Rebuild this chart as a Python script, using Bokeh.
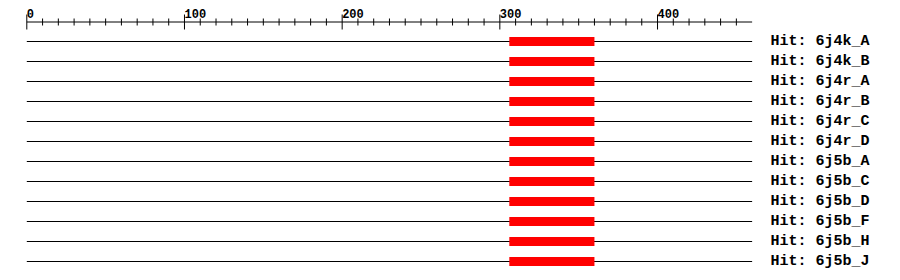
from bokeh.plotting import figure
from bokeh.models import Range1d, ColumnDataSource
from bokeh.core.properties import value
from bokeh.embed import file_html
from bokeh.resources import INLINE

# ---- data ----
query_length = 460
hit_names = ["6j4k_A", "6j4k_B", "6j4r_A", "6j4r_B", "6j4r_C", "6j4r_D",
             "6j5b_A", "6j5b_C", "6j5b_D", "6j5b_F", "6j5b_H", "6j5b_J"]
hit_start = [306, 306, 306, 306, 306, 306, 306, 306, 306, 306, 306, 306]
hit_end = [360, 360, 360, 360, 360, 360, 360, 360, 360, 360, 360, 360]
major_ticks = [0, 100, 200, 300, 400]
major_labels = ["0", "100", "200", "300", "400"]
minor_ticks = [10, 20, 30, 40, 50, 60, 70, 80, 90,
               110, 120, 130, 140, 150, 160, 170, 180, 190,
               210, 220, 230, 240, 250, 260, 270, 280, 290,
               310, 320, 330, 340, 350, 360, 370, 380, 390,
               410, 420, 430, 440, 450]

# ---- layout (pixel mapping) ----
W, H = 900, 280
X0_PX = 26.3
PX_PER_UNIT = 1.5768
ROW0_PX = 41
ROW_STEP_PX = 20.0

p = figure(width=W, height=H, output_backend="svg", toolbar_location=None,
           x_range=Range1d(-X0_PX / PX_PER_UNIT, (W - X0_PX) / PX_PER_UNIT),
           y_range=Range1d((H - ROW0_PX) / ROW_STEP_PX, (0 - ROW0_PX) / ROW_STEP_PX),
           min_border=0, outline_line_color=None)
p.xaxis.visible = False
p.yaxis.visible = False
p.grid.visible = False
p.background_fill_color = "white"
p.border_fill_color = "white"

def r(px):
    return (px - ROW0_PX) / ROW_STEP_PX

ruler_y = r(21.5)
# ruler line
p.segment(x0=[0], x1=[query_length], y0=[ruler_y], y1=[ruler_y],
          line_color="black", line_width=1)
# major ticks
p.segment(x0=major_ticks, x1=major_ticks,
          y0=[r(14)] * len(major_ticks), y1=[r(29)] * len(major_ticks),
          line_color="black", line_width=1)
# minor ticks
p.segment(x0=minor_ticks, x1=minor_ticks,
          y0=[r(18)] * len(minor_ticks), y1=[r(25)] * len(minor_ticks),
          line_color="black", line_width=1)
# tick labels
p.text(x=major_ticks, y=[r(12.5)] * len(major_ticks), text=major_labels,
       text_font=value("Liberation Mono"), text_font_style="bold",
       text_font_size="12px", text_align="left", text_baseline="alphabetic",
       text_color="black")

rows = list(range(len(hit_names)))
src = ColumnDataSource(dict(
    y=rows,
    x0=[0] * len(rows),
    x1=[query_length] * len(rows),
    start=hit_start,
    end=hit_end,
    label=["Hit: " + n for n in hit_names],
    lx=[(770 - X0_PX) / PX_PER_UNIT] * len(rows),
))

p.segment(x0="x0", x1="x1", y0="y", y1="y", source=src,
          line_color="black", line_width=1)
p.hbar(y="y", left="start", right="end", height=9 / ROW_STEP_PX, source=src,
       fill_color="#ff0000", line_color=None)
p.text(x="lx", y="y", text="label", source=src,
       text_font=value("Liberation Mono"), text_font_style="bold",
       text_font_size="15px", text_align="left", text_baseline="middle",
       text_color="black")

open("out.html", "w").write(file_html(p, INLINE))
